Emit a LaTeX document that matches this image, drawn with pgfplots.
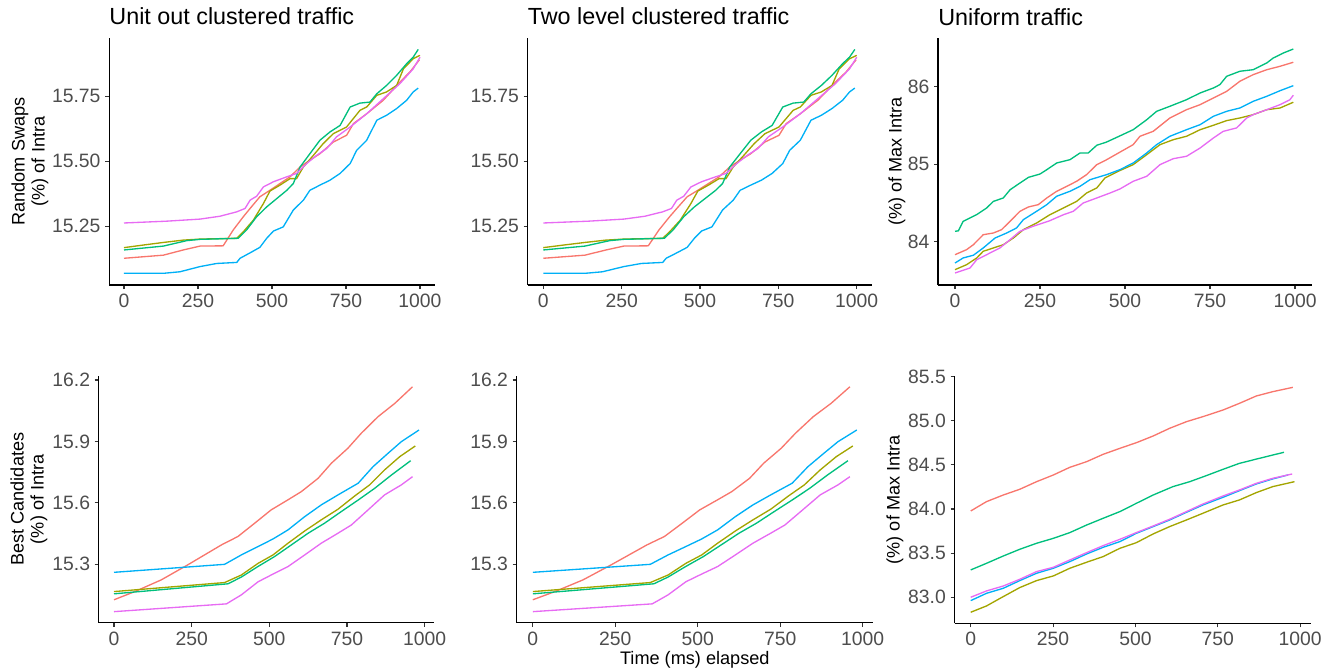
\documentclass[border=0pt]{standalone}
\usepackage{pgfplots}
\usepackage{pgfplotstable}
\pgfplotsset{compat=1.18}
\usepackage{fontspec}
\setmainfont{Liberation Sans}
\definecolor{cR}{HTML}{F8766D}
\definecolor{cO}{HTML}{A3A500}
\definecolor{cG}{HTML}{00BF7D}
\definecolor{cB}{HTML}{00B0F6}
\definecolor{cP}{HTML}{E76BF3}
\definecolor{labc}{HTML}{4D4D4D}
\definecolor{tickc}{HTML}{333333}

% ---- top left / top middle (Random Swaps, clustered) ----
\pgfplotstableread{
t v
0 15.126
133 15.138
200 15.158
257 15.173
335 15.174
369 15.235
403 15.286
426 15.318
459 15.363
493 15.388
527 15.414
561 15.440
595 15.478
628 15.504
662 15.529
707 15.574
752 15.600
775 15.645
820 15.683
876 15.735
932 15.805
966 15.844
998 15.891
}\tRSr
\pgfplotstableread{
t v
0 15.167
65 15.177
133 15.187
200 15.196
257 15.200
381 15.203
403 15.228
437 15.273
471 15.337
493 15.385
527 15.408
561 15.433
583 15.433
606 15.478
640 15.523
673 15.568
707 15.606
752 15.632
797 15.696
820 15.709
854 15.754
887 15.767
921 15.792
944 15.856
977 15.895
1000 15.908
}\tRSo
\pgfplotstableread{
t v
0 15.158
133 15.173
212 15.194
257 15.199
386 15.203
414 15.235
448 15.286
482 15.324
516 15.356
550 15.388
572 15.414
595 15.478
628 15.529
662 15.581
696 15.613
730 15.638
764 15.709
797 15.724
831 15.728
854 15.760
887 15.792
921 15.831
955 15.876
977 15.901
994 15.931
}\tRSg
\pgfplotstableread{
t v
0 15.068
133 15.068
189 15.074
257 15.094
313 15.106
381 15.110
392 15.126
426 15.147
459 15.168
482 15.203
505 15.231
538 15.247
572 15.312
606 15.350
628 15.388
662 15.408
696 15.427
730 15.453
764 15.491
786 15.542
820 15.581
854 15.658
887 15.677
921 15.703
955 15.735
977 15.767
994 15.782
}\tRSb
\pgfplotstableread{
t v
0 15.262
144 15.269
257 15.277
324 15.288
381 15.305
409 15.318
426 15.350
448 15.365
471 15.401
505 15.421
550 15.440
583 15.453
617 15.491
651 15.523
685 15.549
718 15.594
764 15.632
820 15.683
876 15.741
932 15.799
977 15.856
1000 15.901
}\tRSp

% ---- top right (Uniform, random swaps) ----
\pgfplotstableread{
t v
0 83.832
34 83.897
54 83.961
83 84.090
113 84.112
137 84.155
162 84.263
191 84.392
216 84.448
245 84.478
270 84.564
299 84.650
329 84.715
358 84.780
387 84.865
417 84.994
446 85.058
485 85.155
524 85.252
544 85.360
583 85.424
632 85.596
681 85.703
721 85.768
760 85.854
799 85.940
838 86.070
877 86.155
917 86.219
956 86.263
995 86.315
}\tURr
\pgfplotstableread{
t v
0 83.639
34 83.703
64 83.790
83 83.876
113 83.919
142 83.961
172 84.048
201 84.155
240 84.241
279 84.348
319 84.435
358 84.521
387 84.628
417 84.693
441 84.822
480 84.908
524 84.994
564 85.123
603 85.252
642 85.316
681 85.360
721 85.445
760 85.502
799 85.562
838 85.596
877 85.639
917 85.703
956 85.725
995 85.799
}\tURo
\pgfplotstableread{
t v
0 84.134
10 84.140
24 84.263
64 84.350
93 84.435
113 84.520
142 84.564
162 84.670
191 84.757
216 84.830
250 84.873
270 84.929
299 85.015
338 85.058
368 85.145
392 85.145
417 85.244
446 85.286
485 85.365
524 85.445
564 85.574
593 85.682
632 85.747
681 85.832
721 85.919
760 85.983
779 86.026
799 86.134
838 86.199
877 86.219
917 86.306
936 86.370
966 86.435
995 86.486
}\tURg
\pgfplotstableread{
t v
0 83.725
24 83.790
54 83.825
83 83.919
118 84.048
152 84.112
181 84.177
201 84.284
240 84.392
270 84.478
299 84.586
338 84.650
368 84.715
397 84.800
446 84.865
485 84.929
524 85.015
564 85.145
593 85.252
632 85.360
681 85.445
721 85.510
760 85.618
799 85.682
838 85.725
877 85.811
917 85.876
956 85.948
995 86.013
}\tURb
\pgfplotstableread{
t v
0 83.596
44 83.660
64 83.768
93 83.832
132 83.919
162 84.026
191 84.134
230 84.199
279 84.271
319 84.348
348 84.392
377 84.499
417 84.564
456 84.628
485 84.680
524 84.779
564 84.844
603 84.994
642 85.071
681 85.102
721 85.209
760 85.338
789 85.424
828 85.467
858 85.596
877 85.639
917 85.703
956 85.768
985 85.832
995 85.889
}\tURp

% ---- bottom left / bottom middle (Best Candidates, clustered) ----
\pgfplotstableread{
t v
0 15.127
67 15.167
152 15.224
238 15.298
346 15.395
399 15.436
453 15.501
506 15.566
560 15.615
603 15.655
657 15.720
700 15.794
753 15.867
796 15.940
850 16.021
904 16.086
961 16.167
}\tBCr
\pgfplotstableread{
t v
0 15.167
356 15.211
410 15.248
464 15.305
512 15.346
560 15.403
614 15.463
667 15.517
721 15.569
775 15.634
823 15.688
871 15.761
920 15.826
970 15.878
}\tBCo
\pgfplotstableread{
t v
0 15.156
367 15.205
410 15.238
464 15.290
517 15.338
571 15.395
625 15.452
678 15.501
732 15.558
786 15.614
839 15.671
893 15.736
955 15.806
}\tBCg
\pgfplotstableread{
t v
0 15.261
356 15.300
410 15.346
464 15.387
512 15.424
560 15.468
614 15.533
667 15.590
721 15.639
786 15.696
834 15.777
882 15.842
925 15.899
982 15.956
}\tBCb
\pgfplotstableread{
t v
0 15.069
362 15.107
410 15.151
464 15.215
515 15.255
560 15.289
614 15.346
667 15.403
721 15.452
764 15.492
818 15.566
871 15.639
925 15.688
961 15.728
}\tBCp

% ---- bottom right (Uniform, best candidates) ----
\pgfplotstableread{
t v
0 83.978
48 84.084
99 84.159
149 84.224
200 84.310
251 84.386
301 84.473
352 84.537
402 84.620
453 84.688
503 84.752
554 84.828
604 84.915
655 84.990
705 85.047
766 85.122
816 85.198
867 85.281
917 85.330
978 85.379
}\tUBr
\pgfplotstableread{
t v
0 82.830
48 82.902
99 83.008
149 83.110
200 83.189
251 83.242
301 83.329
352 83.397
402 83.461
453 83.555
503 83.619
554 83.718
604 83.801
655 83.876
705 83.952
766 84.046
816 84.103
867 84.186
917 84.254
983 84.310
}\tUBo
\pgfplotstableread{
t v
0 83.310
48 83.385
99 83.468
149 83.544
200 83.612
251 83.668
301 83.733
352 83.819
402 83.895
453 83.971
503 84.065
554 84.159
614 84.254
665 84.310
715 84.378
766 84.450
816 84.518
877 84.575
951 84.643
}\tUBg
\pgfplotstableread{
t v
0 82.962
48 83.045
99 83.102
149 83.189
200 83.272
251 83.329
301 83.404
352 83.491
402 83.566
453 83.631
503 83.725
554 83.801
604 83.876
655 83.963
705 84.046
766 84.133
816 84.208
867 84.284
917 84.341
963 84.386
}\tUBb
\pgfplotstableread{
t v
0 83.000
48 83.072
99 83.128
149 83.204
200 83.291
251 83.340
301 83.423
352 83.506
402 83.585
453 83.657
503 83.733
554 83.808
604 83.884
655 83.971
705 84.057
766 84.148
816 84.216
867 84.291
917 84.348
976 84.397
}\tUBp

\pgfplotsset{
  gg/.style={
    scale only axis,
    anchor=south west,
    axis lines*=left,
    axis line style={-, black, line width=0.8pt},
    tick align=outside,
    major tick length=3pt,
    tick style={color=tickc, line width=0.8pt},
    tick label style={font=\fontsize{14.5}{17}\selectfont, text=labc},
    xtick={0,250,500,750,1000},
    xticklabels={0,250,500,750,1000},
    minor tick num=0,
    title style={at={(0,1)}, anchor=base west, yshift=3.75pt, inner sep=0pt, font=\fontsize{17.5}{20}\selectfont},
    ylabel style={align=center, anchor=center, font=\fontsize{13.6}{15}\selectfont},
    xlabel style={font=\fontsize{13.6}{15}\selectfont},
    every axis plot/.append style={line width=1.0pt, no markers, line join=round},
  }
}

\begin{document}
\begin{tikzpicture}
\path[use as bounding box] (0,0) rectangle (1001.25pt,-503.25pt);

% ---- top left
\begin{axis}[gg, at={(81.9pt,-213.75pt)}, width=244.2pt, height=185.25pt,
  xmin=-50, xmax=1050, ymin=15.023, ymax=15.975,
  ytick={15.25,15.5,15.75}, yticklabels={15.25,15.50,15.75},
  title={Unit out clustered traffic},
  ylabel={Random Swaps\\(\%) of Intra},
  ylabel style={at={(axis description cs:-0.2432,0.5)}}]
\addplot[cR] table[x=t,y=v] {\tRSr};
\addplot[cO] table[x=t,y=v] {\tRSo};
\addplot[cG] table[x=t,y=v] {\tRSg};
\addplot[cB] table[x=t,y=v] {\tRSb};
\addplot[cP] table[x=t,y=v] {\tRSp};
\end{axis}

% ---- top middle
\begin{axis}[gg, at={(395.7pt,-213.75pt)}, width=258.6pt, height=185.25pt,
  xmin=-50, xmax=1050, ymin=15.023, ymax=15.975,
  ytick={15.25,15.5,15.75}, yticklabels={15.25,15.50,15.75},
  title={Two level clustered traffic}]
\addplot[cR] table[x=t,y=v] {\tRSr};
\addplot[cO] table[x=t,y=v] {\tRSo};
\addplot[cG] table[x=t,y=v] {\tRSg};
\addplot[cB] table[x=t,y=v] {\tRSb};
\addplot[cP] table[x=t,y=v] {\tRSp};
\end{axis}

% ---- top right
\begin{axis}[gg, at={(703.5pt,-213.75pt)}, width=280.5pt, height=185.25pt,
  xmin=-50, xmax=1050, ymin=83.441, ymax=86.628,
  ytick={84,85,86}, yticklabels={84,85,86},
  title={Uniform traffic},
  ylabel={(\%) of Max Intra},
  ylabel style={at={(axis description cs:-0.1096,0.5)}}]
\addplot[cR] table[x=t,y=v] {\tURr};
\addplot[cO] table[x=t,y=v] {\tURo};
\addplot[cG] table[x=t,y=v] {\tURg};
\addplot[cB] table[x=t,y=v] {\tURb};
\addplot[cP] table[x=t,y=v] {\tURp};
\end{axis}

% ---- bottom left
\begin{axis}[gg, at={(74.06pt,-467.18pt)}, width=251.66pt, height=185.55pt,
  xmin=-49.1, xmax=1031.1, ymin=15.014, ymax=16.222,
  ytick={15.3,15.6,15.9,16.2}, yticklabels={15.3,15.6,15.9,16.2},
  ylabel={Best Candidates\\(\%) of Intra},
  ylabel style={at={(axis description cs:-0.2079,0.5)}}]
\addplot[cR] table[x=t,y=v] {\tBCr};
\addplot[cO] table[x=t,y=v] {\tBCo};
\addplot[cG] table[x=t,y=v] {\tBCg};
\addplot[cB] table[x=t,y=v] {\tBCb};
\addplot[cP] table[x=t,y=v] {\tBCp};
\end{axis}

% ---- bottom middle
\begin{axis}[gg, at={(387.45pt,-467.18pt)}, width=267.3pt, height=185.55pt,
  xmin=-49.1, xmax=1031.1, ymin=15.014, ymax=16.222,
  ytick={15.3,15.6,15.9,16.2}, yticklabels={15.3,15.6,15.9,16.2},
  xlabel={Time (ms) elapsed},
  xlabel style={at={(axis description cs:0.5,0)}, anchor=center, yshift=-27.45pt}]
\addplot[cR] table[x=t,y=v] {\tBCr};
\addplot[cO] table[x=t,y=v] {\tBCo};
\addplot[cG] table[x=t,y=v] {\tBCg};
\addplot[cB] table[x=t,y=v] {\tBCb};
\addplot[cP] table[x=t,y=v] {\tBCp};
\end{axis}

% ---- bottom right
\begin{axis}[gg, at={(715.9pt,-467.6pt)}, width=267.1pt, height=185.5pt,
  xmin=-49.15, xmax=1032.15, ymin=82.703, ymax=85.506,
  ytick={83,83.5,84,84.5,85,85.5}, yticklabels={83.0,83.5,84.0,84.5,85.0,85.5},
  ylabel={(\%) of Max Intra},
  ylabel style={at={(axis description cs:-0.1671,0.5)}}]
\addplot[cR] table[x=t,y=v] {\tUBr};
\addplot[cO] table[x=t,y=v] {\tUBo};
\addplot[cG] table[x=t,y=v] {\tUBg};
\addplot[cB] table[x=t,y=v] {\tUBb};
\addplot[cP] table[x=t,y=v] {\tUBp};
\end{axis}
\end{tikzpicture}
\end{document}
